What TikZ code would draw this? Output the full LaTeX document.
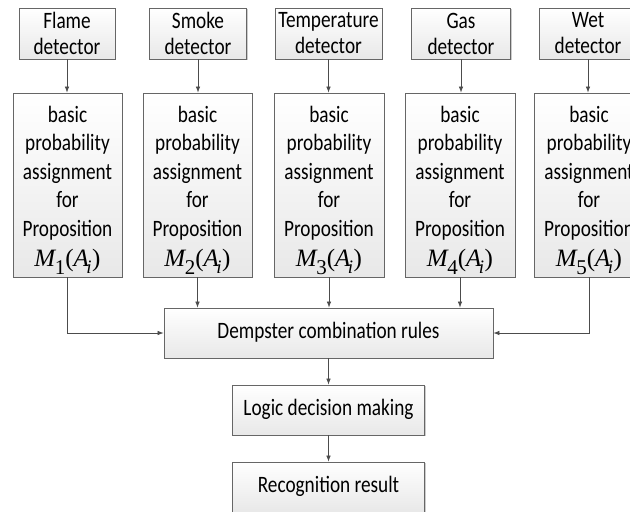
\documentclass[tikz,border=0pt]{standalone}
\usepackage{fontspec}
\setmainfont{Carlito}[FakeStretch=0.82]
\newfontfamily\tnr{Liberation Serif}
\usetikzlibrary{arrows.meta,shadows}
\newcommand{\mform}[1]{{\tnr\fontsize{25}{28}\selectfont\itshape M\kern-0.5pt\raisebox{-8pt}{\upshape\fontsize{21}{21}\selectfont #1}\upshape(\itshape A\kern-2.5pt\raisebox{-7pt}{\fontsize{19}{19}\selectfont i}\kern0.5pt\upshape)}}
\begin{document}
\begin{tikzpicture}[x=1pt,y=-1pt,
  boxbase/.style={draw=black!60, line width=0.8pt, top color=white, bottom color=black!9,
    drop shadow={shadow xshift=1.2pt, shadow yshift=-1.2pt, fill=black!40, opacity=0.5},
    inner sep=0pt, align=center},
  topbox/.style={boxbase, minimum height=51pt, font=\fontsize{23.5}{26}\selectfont},
  midbox/.style={boxbase, minimum height=184pt, minimum width=110pt},
  midtext/.style={inner sep=0pt, align=center, font=\fontsize{23.5}{28.5}\selectfont},
  onebox/.style={boxbase, minimum height=50pt, text height=16pt, text depth=5pt, font=\fontsize{23.5}{26}\selectfont},
  arr/.style={draw=black!70, line width=0.7pt, -{Latex[length=6pt,width=4.5pt]}}
]
\useasboundingbox (0,0) rectangle (630,512);

% detectors
\node[topbox, minimum width=96pt] (f1) at (67,33.5) {Flame\\detector};
\node[topbox, minimum width=97pt] (f2) at (198,33.5) {Smoke\\detector};
\node[topbox, minimum width=107pt] (f3) at (328.5,33.5) {Temperature\\detector};
\node[topbox, minimum width=99pt] (f4) at (461,33.5) {Gas\\detector};
\node[topbox, minimum width=98pt] (f5) at (588,33.5) {Wet\\detector};

% BPA boxes
\node[midbox, minimum width=109pt] (m1) at (67.5,185) {};
\node[midbox, minimum width=109pt] (m2) at (197.5,185) {};
\node[midbox] (m3) at (329,185) {};
\node[midbox] (m4) at (460,185) {};
\node[midbox] (m5) at (589,185) {};

\node[midtext] (t1) at (67.5,190) {basic\\probability\\assignment\\for\\Proposition\\[1.5pt]\mform{1}};
\node[midtext] (t2) at (197.5,190) {basic\\probability\\assignment\\for\\Proposition\\[1.5pt]\mform{2}};
\node[midtext] (t3) at (329,190) {basic\\probability\\assignment\\for\\Proposition\\[1.5pt]\mform{3}};
\node[midtext] (t4) at (460,190) {basic\\probability\\assignment\\for\\Proposition\\[1.5pt]\mform{4}};
\node[midtext] (t5) at (589,190) {basic\\probability\\assignment\\for\\Proposition\\[1.5pt]\mform{5}};

% lower chain
\node[onebox, minimum width=329pt] (d) at (328.5,333) {Dempster combination rules};
\node[onebox, minimum width=192pt] (l) at (328.5,410) {Logic decision making};
\node[onebox, minimum width=192pt] (r) at (328.5,487) {Recognition result};

% connectors
\draw[arr] (f1.south) -- (f1.south |- m1.north);
\draw[arr] (f2.south) -- (f2.south |- m2.north);
\draw[arr] (f3.south) -- (f3.south |- m3.north);
\draw[arr] (f4.south) -- (f4.south |- m4.north);
\draw[arr] (f5.south) -- (f5.south |- m5.north);

\draw[arr] (m1.south) |- (d.west);
\draw[arr] (m2.south) -- (m2.south |- d.north);
\draw[arr] (m3.south) -- (m3.south |- d.north);
\draw[arr] (m4.south) -- (m4.south |- d.north);
\draw[arr] (m5.south) |- (d.east);

\draw[arr] (d.south) -- (l.north);
\draw[arr] (l.south) -- (r.north);
\end{tikzpicture}
\end{document}
